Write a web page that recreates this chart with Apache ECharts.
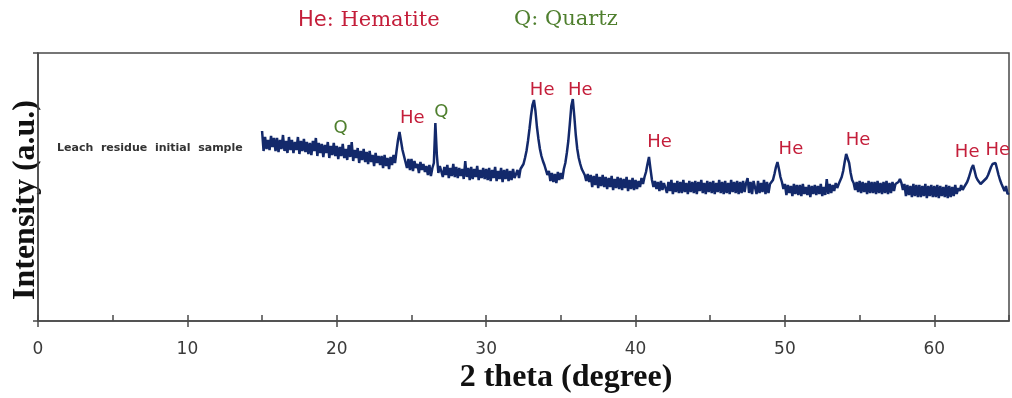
<!DOCTYPE html>
<html>
<head>
<meta charset="utf-8">
<script src="https://cdn.jsdelivr.net/npm/echarts@6/dist/echarts.min.js"></script>
<style>
html,body{margin:0;padding:0;background:#fff;}
#c{width:1012px;height:398px;}
</style>
</head>
<body>
<div id="c"></div>
<script>
// 2theta grid of the scan
const twoThetaStart = 15.0;
const twoThetaStep = 0.1;
// Intensity (a.u.), one row per degree (15.0 ... 64.9), plus 65.0
const intensity = [
  190,170,184,172,181,171,185,174,183,170, // 15
  183,169,181,172,186,170,180,168,184,171, // 16
  181,168,179,171,184,167,180,170,182,169, // 17
  179,167,178,166,180,170,183,165,178,168, // 18
  177,164,176,168,179,163,175,166,178,165, // 19
  175,162,174,165,177,163,172,161,176,164, // 20
  179,160,171,163,173,158,170,161,172,159, // 21
  169,157,170,159,166,155,168,158,165,156, // 22
  165,153,166,155,163,152,164,156,166,158, // 23
  170,181,189,180,171,165,163,153,162,151, // 24
  162,150,160,153,157,148,159,151,157,149, // 25
  155,146,156,145,153,158,198,166,148,155, // 26
  155,144,154,146,156,143,153,145,157,144, // 27
  154,143,153,145,152,142,160,144,153,141, // 28
  154,142,152,144,155,141,151,143,153,142, // 29
  152,141,153,140,151,143,154,140,150,142, // 30
  153,139,151,142,152,140,150,141,152,143, // 31
  141,151,143,152,154,157,163,170,180,192, // 32
  205,216,221,210,194,182,172,165,160,156, // 33
  155,146,150,140,148,139,147,138,149,141, // 34
  148,142,152,158,168,180,197,215,222,205, // 35
  186,172,163,157,152,149,146,140,147,139, // 36
  146,134,145,136,147,133,144,135,146,134, // 37
  144,132,143,134,145,131,142,133,144,132, // 38
  143,131,142,133,144,130,141,132,143,131, // 39
  141,132,140,134,143,137,144,149,157,164, // 40
  152,141,134,140,132,139,130,140,131,138, // 41
  140,128,139,130,141,127,138,129,140,128, // 42
  139,128,141,129,138,127,140,129,139,128, // 43
  140,127,139,130,141,128,138,127,140,129, // 44
  139,128,140,127,138,129,141,128,139,127, // 45
  140,128,138,127,141,129,139,128,140,127, // 46
  139,128,140,129,138,143,128,139,127,140, // 47
  139,127,140,128,138,129,141,127,139,128, // 48
  137,136,141,147,154,159,152,144,139,132, // 49
  137,126,136,128,135,125,137,127,136,126, // 50
  136,125,137,127,134,126,136,124,135,127, // 51
  136,126,135,127,137,125,134,126,142,127, // 52
  137,128,136,130,138,133,137,139,144,150, // 53
  159,167,169,158,148,141,138,131,139,129, // 54
  140,128,139,129,138,127,140,128,139,128, // 55
  139,127,140,128,138,127,139,128,140,127, // 56
  138,128,139,130,137,136,139,142,138,131, // 57
  137,125,136,126,135,124,137,125,136,124, // 58
  136,124,135,125,137,123,135,125,136,124, // 59
  135,124,136,123,135,125,134,124,136,123, // 60
  135,124,134,125,136,127,133,130,136,131, // 61
  134,136,139,143,148,153,156,150,144,141, // 62
  142,137,139,140,138,143,146,150,154,157, // 63
  158,158,152,146,141,137,135,130,135,127, // 64
  128                                      // 65.0
];

// Phase labels on the peaks
const peakText  = ['Q',  'He', 'Q',  'He', 'He', 'He', 'He', 'He', 'He', 'He'];
const peakTheta = [20.25, 25.05, 27.0, 33.75, 36.3, 41.6, 50.4, 54.9, 62.2, 64.25];
const peakLevel = [193,  203,  209,  231,  231,  179,  172,  181,  169,  171];

const xTicks = [0, 10, 20, 30, 40, 50, 60];

const HE_COLOR = '#c41e3a';
const Q_COLOR = '#4f7f2e';

const lineData = intensity.map((v, i) => [+(twoThetaStart + i * twoThetaStep).toFixed(1), v]);
const labelData = peakText.map((t, i) => ({
  value: [peakTheta[i], peakLevel[i]],
  name: t,
  label: {color: t === 'Q' ? Q_COLOR : HE_COLOR}
}));

const chart = echarts.init(document.getElementById('c'), null, {renderer: 'canvas'});
const axisColor = '#4a4a4a';

chart.setOption({
  animation: false,
  backgroundColor: '#fff',
  grid: {left: 38, right: 3, top: 53, bottom: 77, show: true, borderColor: axisColor, borderWidth: 1.5, backgroundColor: 'transparent'},
  xAxis: [
    {
      type: 'value', min: 0, max: 65, interval: 10,
      axisLine: {show: true, onZero: false, lineStyle: {color: axisColor, width: 1.5}},
      axisTick: {show: true, inside: false, length: 6, lineStyle: {color: axisColor, width: 1.5}},
      axisLabel: {
        show: true, margin: 20, color: '#3a3a3a', fontFamily: 'DejaVu Sans', fontSize: 17,
        showMaxLabel: false,
        formatter: v => (xTicks.indexOf(v) >= 0 ? String(v) : '')
      },
      splitLine: {show: false}
    },
    {
      type: 'value', min: 0, max: 65, interval: 5, position: 'bottom',
      axisLine: {show: false},
      axisTick: {show: true, inside: true, length: 6, lineStyle: {color: axisColor, width: 1.5}},
      axisLabel: {show: false},
      splitLine: {show: false}
    }
  ],
  yAxis: {
    type: 'value', min: 0, max: 268, interval: 268,
    axisLine: {show: true, onZero: false, lineStyle: {color: axisColor, width: 1.5}},
    axisTick: {show: true, inside: false, length: 5, lineStyle: {color: axisColor, width: 1.5}},
    axisLabel: {show: false},
    splitLine: {show: false}
  },
  series: [
    {
      type: 'line', xAxisIndex: 0, data: lineData, showSymbol: false, smooth: false,
      sampling: false,
      lineStyle: {color: '#13296b', width: 2.5}, z: 3
    },
    {
      type: 'scatter', xAxisIndex: 0, data: labelData, symbolSize: 0, z: 4,
      itemStyle: {opacity: 1},
      label: {
        show: true, position: 'inside', formatter: p => p.name, opacity: 1,
        fontFamily: 'DejaVu Sans', fontSize: 18, color: HE_COLOR
      },
      emphasis: {disabled: true},
      labelLayout: {hideOverlap: false}
    }
  ],
  graphic: [
    {
      type: 'text', left: 298, top: 10,
      style: {
        text: '{a|He}{b|: Hematite}',
        rich: {
          a: {fontFamily: 'DejaVu Sans', fontSize: 21, fill: HE_COLOR},
          b: {fontFamily: 'DejaVu Serif', fontSize: 21, fill: HE_COLOR}
        }
      }
    },
    {
      type: 'text', left: 514, top: 9,
      style: {text: 'Q: Quartz', fontFamily: 'DejaVu Serif', fontSize: 21, fill: Q_COLOR}
    },
    {
      type: 'text', left: 57, top: 143,
      style: {text: 'Leach  residue  initial  sample', fontFamily: 'DejaVu Sans', fontWeight: 'bold', fontSize: 11, fill: '#333'}
    },
    {
      type: 'text', x: 566, y: 378,
      style: {text: '2 theta (degree)', fontFamily: 'Liberation Serif', fontWeight: 'bold', fontSize: 32, fill: '#111', align: 'center', verticalAlign: 'middle'}
    },
    {
      type: 'text', x: 26, y: 200, rotation: Math.PI / 2,
      style: {text: 'Intensity (a.u.)', fontFamily: 'Liberation Serif', fontWeight: 'bold', fontSize: 32, fill: '#111', align: 'center', verticalAlign: 'middle'}
    }
  ]
});
</script>
</body>
</html>
